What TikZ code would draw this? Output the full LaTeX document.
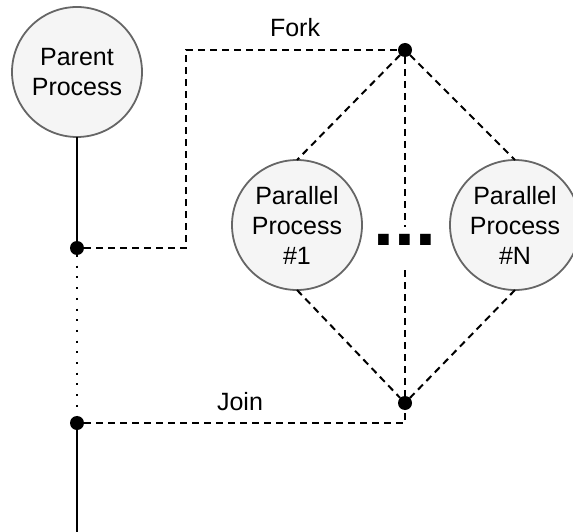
\documentclass[tikz,border=0pt]{standalone}
\usepackage{fontspec}
\setmainfont{Liberation Sans}
\usepackage{tikz}
\usetikzlibrary{positioning,calc}

\definecolor{procfill}{HTML}{F5F5F5}
\definecolor{procline}{HTML}{666666}

\tikzset{
  proc/.style={draw=procline,fill=procfill,circle,line width=1.8pt,minimum size=130pt,inner sep=0pt,outer sep=0pt,align=center,font=\fontsize{25}{30}\selectfont},
  joint/.style={circle,fill=black,minimum size=14pt,inner sep=0pt,outer sep=0pt},
  dashline/.style={line width=2pt,dash pattern=on 7pt off 5pt},
  dotline/.style={line width=2pt,dash pattern=on 2pt off 8.7pt},
  solidline/.style={line width=2pt},
  lbl/.style={font=\fontsize{25}{30}\selectfont}
}

\begin{document}
\begin{tikzpicture}[x=1pt,y=-1pt]
    \useasboundingbox (0,0) rectangle (573,532);

    % Processes
    \node[proc] (parent) at (77,72) {Parent\\Process};
    \node[proc] (p1) at (297,225) {Parallel\\Process\\\#1};
    \node[proc] (pN) at (515,225) {Parallel\\Process\\\#N};

    % Fork / Join points
    \node[joint] (fork) at (405,50) {};
    \node[joint] (join) at (405,403) {};
    \node[joint] (split) at (77,248) {};
    \node[joint] (merge) at (77,423) {};
    \coordinate (bend) at (186,248);
    \coordinate (end) at (77,532);

    % Ellipsis between the parallel processes
    \node[anchor=base,inner sep=0pt,text height=18pt,text depth=25pt,
          font=\fontsize{75}{75}\selectfont\bfseries] (more) at (405,245) {...};

    % Parent timeline
    \draw[solidline] (parent) -- (split);
    \draw[dotline] (split) -- (merge);
    \draw[solidline] (merge) -- (end);

    % Fork
    \draw[dashline] (split) -- (bend) |- (fork);
    \node[lbl] (forklbl) at (295,28) {Fork};
    \draw[dashline] (fork) -- (p1.north);
    \draw[dashline] (fork) -- (pN.north);
    \draw[dashline] (fork) -- (more.north);

    % Join
    \draw[dashline] (p1.south) -- (join);
    \draw[dashline] (pN.south) -- (join);
    \draw[dashline] (more.south) -- (join);
    \draw[dashline] (merge) -| (join);
    \node[lbl] (joinlbl) at (240,402) {Join};
\end{tikzpicture}
\end{document}
